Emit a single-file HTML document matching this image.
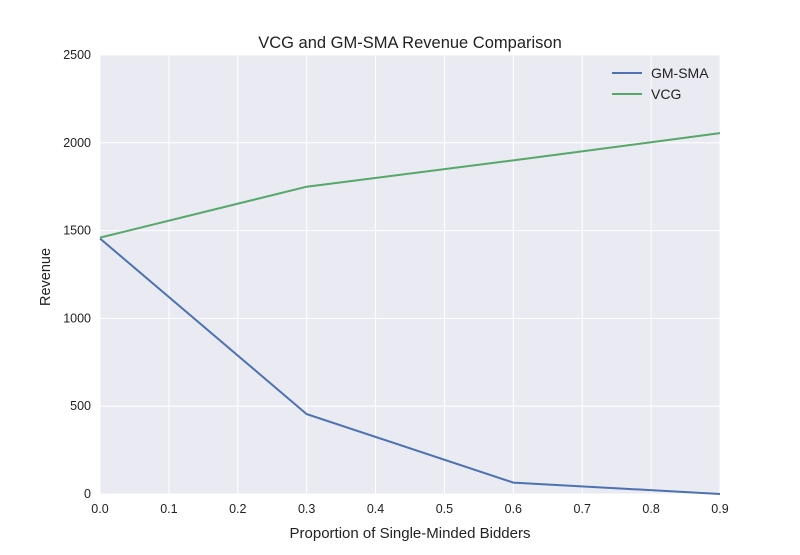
<!DOCTYPE html>
<html><head><meta charset="utf-8"><style>
body{margin:0;background:#fff;}
svg text{font-family:"Liberation Sans",sans-serif;fill:#222;}
</style></head><body>
<svg id="chart" width="800" height="550">
<rect x="100" y="55" width="620" height="439" fill="#eaeaf2"/>
<g id="grid"></g><g id="ticks"></g><g id="series"></g>
<text x="410" y="48" text-anchor="middle" font-size="16.5">VCG and GM-SMA Revenue Comparison</text>
<text x="410" y="538" text-anchor="middle" font-size="15">Proportion of Single-Minded Bidders</text>
<text x="50" y="277" text-anchor="middle" font-size="14.5" transform="rotate(-90 50 277)">Revenue</text>
<g>
<line x1="612" y1="73" x2="642" y2="73" stroke="#4c72b0" stroke-width="2"/>
<text x="651" y="78" font-size="14">GM-SMA</text>
<line x1="612" y1="94" x2="642" y2="94" stroke="#55a868" stroke-width="2"/>
<text x="651" y="99" font-size="14">VCG</text>
</g>
</svg>
<script>
const xValues=[0,0.3,0.6,0.9];
const gmSma=[1455,455,65,0];
const vcg=[1460,1750,1900,2055];
const xTicks=[0,0.1,0.2,0.3,0.4,0.5,0.6,0.7,0.8,0.9];
const yTicks=[0,500,1000,1500,2000,2500];
const NS="http://www.w3.org/2000/svg";
const X=v=>100+v/0.9*620, Y=v=>494-v/2500*439;
const grid=document.getElementById('grid'),ticks=document.getElementById('ticks'),series=document.getElementById('series');
function mk(t,a,p){const e=document.createElementNS(NS,t);for(const k in a)e.setAttribute(k,a[k]);p.appendChild(e);return e;}
xTicks.forEach(v=>{
 const l=mk('line',{x1:X(v),x2:X(v),y1:55,y2:494,stroke:'#fff','stroke-width':1},grid);
 
 
 const t=mk('text',{x:X(v),y:513,'text-anchor':'middle','font-size':12.5},ticks);t.textContent=v.toFixed(1);
 
 
});
yTicks.forEach(v=>{
 const l=mk('line',{x1:100,x2:720,y1:Y(v),y2:Y(v),stroke:'#fff','stroke-width':1},grid);
 
 
 const t=mk('text',{x:91,y:Y(v)+4,'text-anchor':'end','font-size':12.5},ticks);t.textContent=v;
 
 
});
[[gmSma,'#4c72b0','gm-sma-line'],[vcg,'#55a868','vcg-line']].forEach(([d,c,n])=>{
 const p=mk('polyline',{points:d.map((v,i)=>X(xValues[i])+','+Y(v)).join(' '),fill:'none',stroke:c,'stroke-width':2},series);
 
 
});
</script>
</body></html>
